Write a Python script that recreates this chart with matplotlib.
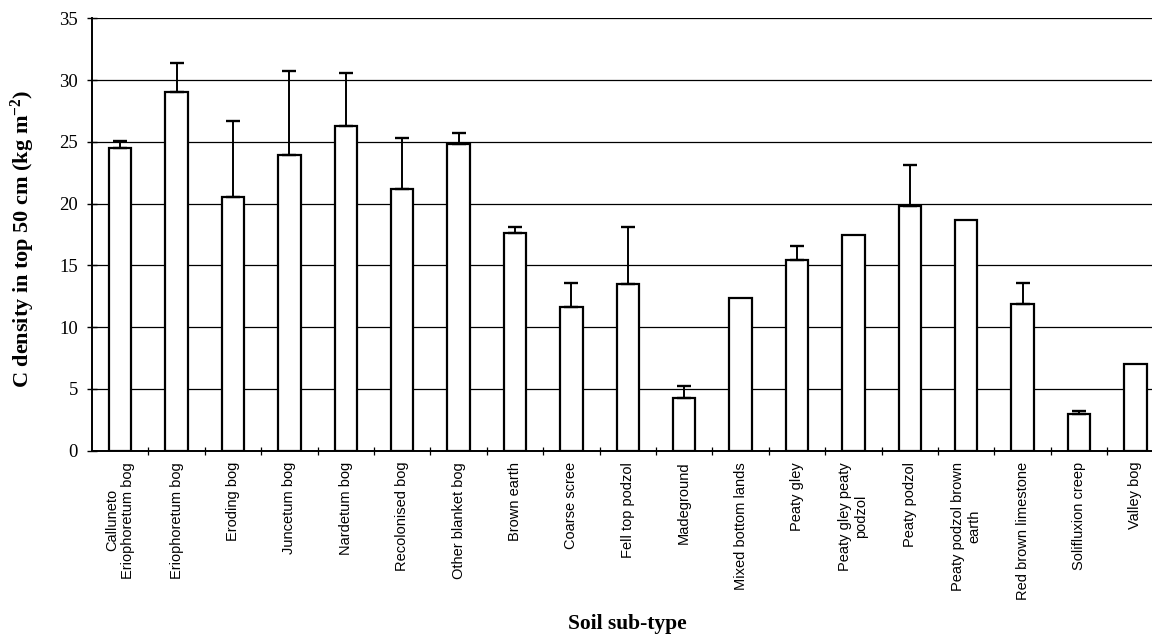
import matplotlib
matplotlib.use("Agg")
import matplotlib.pyplot as plt
import numpy as np

# Soil sub-types and carbon density (kg m^-2) in the top 50 cm
categories = [
    "Calluneto\nEriophoretum bog",
    "Eriophoretum bog",
    "Eroding bog",
    "Juncetum bog",
    "Nardetum bog",
    "Recolonised bog",
    "Other blanket bog",
    "Brown earth",
    "Coarse scree",
    "Fell top podzol",
    "Madeground",
    "Mixed bottom lands",
    "Peaty gley",
    "Peaty gley peaty\npodzol",
    "Peaty podzol",
    "Peaty podzol brown\nearth",
    "Red brown limestone",
    "Solifluxion creep",
    "Valley bog",
]
c_density = [24.5, 29.0, 20.5, 23.9, 26.3, 21.2, 24.8, 17.6, 11.6, 13.5,
             4.3, 12.4, 15.4, 17.5, 19.8, 18.7, 11.9, 3.0, 7.0]
# Upper error (0 = no error bar shown)
err_upper = [0.6, 2.4, 6.2, 6.8, 4.3, 4.1, 0.9, 0.5, 2.0, 4.6,
             0.9, 0.0, 1.2, 0.0, 3.3, 0.0, 1.7, 0.2, 0.0]
y_ticks = [0, 5, 10, 15, 20, 25, 30, 35]

plt.rcParams["mathtext.fontset"] = "custom"
plt.rcParams["mathtext.rm"] = "Liberation Serif:bold"
plt.rcParams["mathtext.bf"] = "Liberation Serif:bold"
plt.rcParams["mathtext.it"] = "Liberation Serif:bold"

serif = ["Liberation Serif", "DejaVu Serif"]
narrow = ["Liberation Sans Narrow", "Liberation Sans", "DejaVu Sans"]

W, H = 1152, 641
fig = plt.figure(figsize=(W / 100, H / 100), dpi=100)
fig.patch.set_facecolor("white")
ax = fig.add_axes([92 / W, 190.3 / H, (1163.6 - 92) / W, 432.4 / H])

x = np.arange(len(categories))
ax.bar(x, c_density, width=0.4, color="white", edgecolor="black",
       linewidth=1.6, zorder=3)

has_err = [i for i, e in enumerate(err_upper) if e > 0]
ax.errorbar([x[i] for i in has_err], [c_density[i] for i in has_err],
            yerr=[[0] * len(has_err), [err_upper[i] for i in has_err]],
            fmt="none", ecolor="black", elinewidth=1.4, capsize=5,
            capthick=1.7, zorder=4)

ax.set_xlim(-0.5, len(categories) - 0.5)
ax.set_ylim(0, 35)
ax.set_yticks(y_ticks)
ax.set_yticklabels([str(v) for v in y_ticks], fontfamily=serif,
                   fontsize=13.5)
ax.yaxis.grid(True, color="black", linewidth=0.9, zorder=0)
ax.set_axisbelow(True)

ax.set_xticks(x)
ax.set_xticklabels(categories, rotation=90, ha="center", va="top",
                   multialignment="center", fontfamily=narrow, fontsize=10.5)
ax.tick_params(axis="x", which="major", length=0, pad=8)
ax.set_xticks(np.arange(len(categories)) + 0.5, minor=True)
ax.tick_params(axis="x", which="minor", direction="inout", length=6,
               width=0.9)
ax.tick_params(axis="y", direction="inout", length=7, width=1.0, pad=6.5)

for side in ("top", "right"):
    ax.spines[side].set_visible(False)
for side in ("left", "bottom"):
    ax.spines[side].set_linewidth(1.4)
    ax.spines[side].set_zorder(5)

ax.set_ylabel("C density in top 50 cm (kg m$^{-2}$)",
              fontfamily=serif, fontweight="bold", fontsize=16)
ax.yaxis.set_label_coords(-0.051, 0.49)
ax.set_xlabel("Soil sub-type", fontfamily=serif, fontweight="bold",
              fontsize=15.5)
ax.xaxis.set_label_coords(0.5, -0.378)

fig.savefig("out.png", dpi=100, facecolor="white")
